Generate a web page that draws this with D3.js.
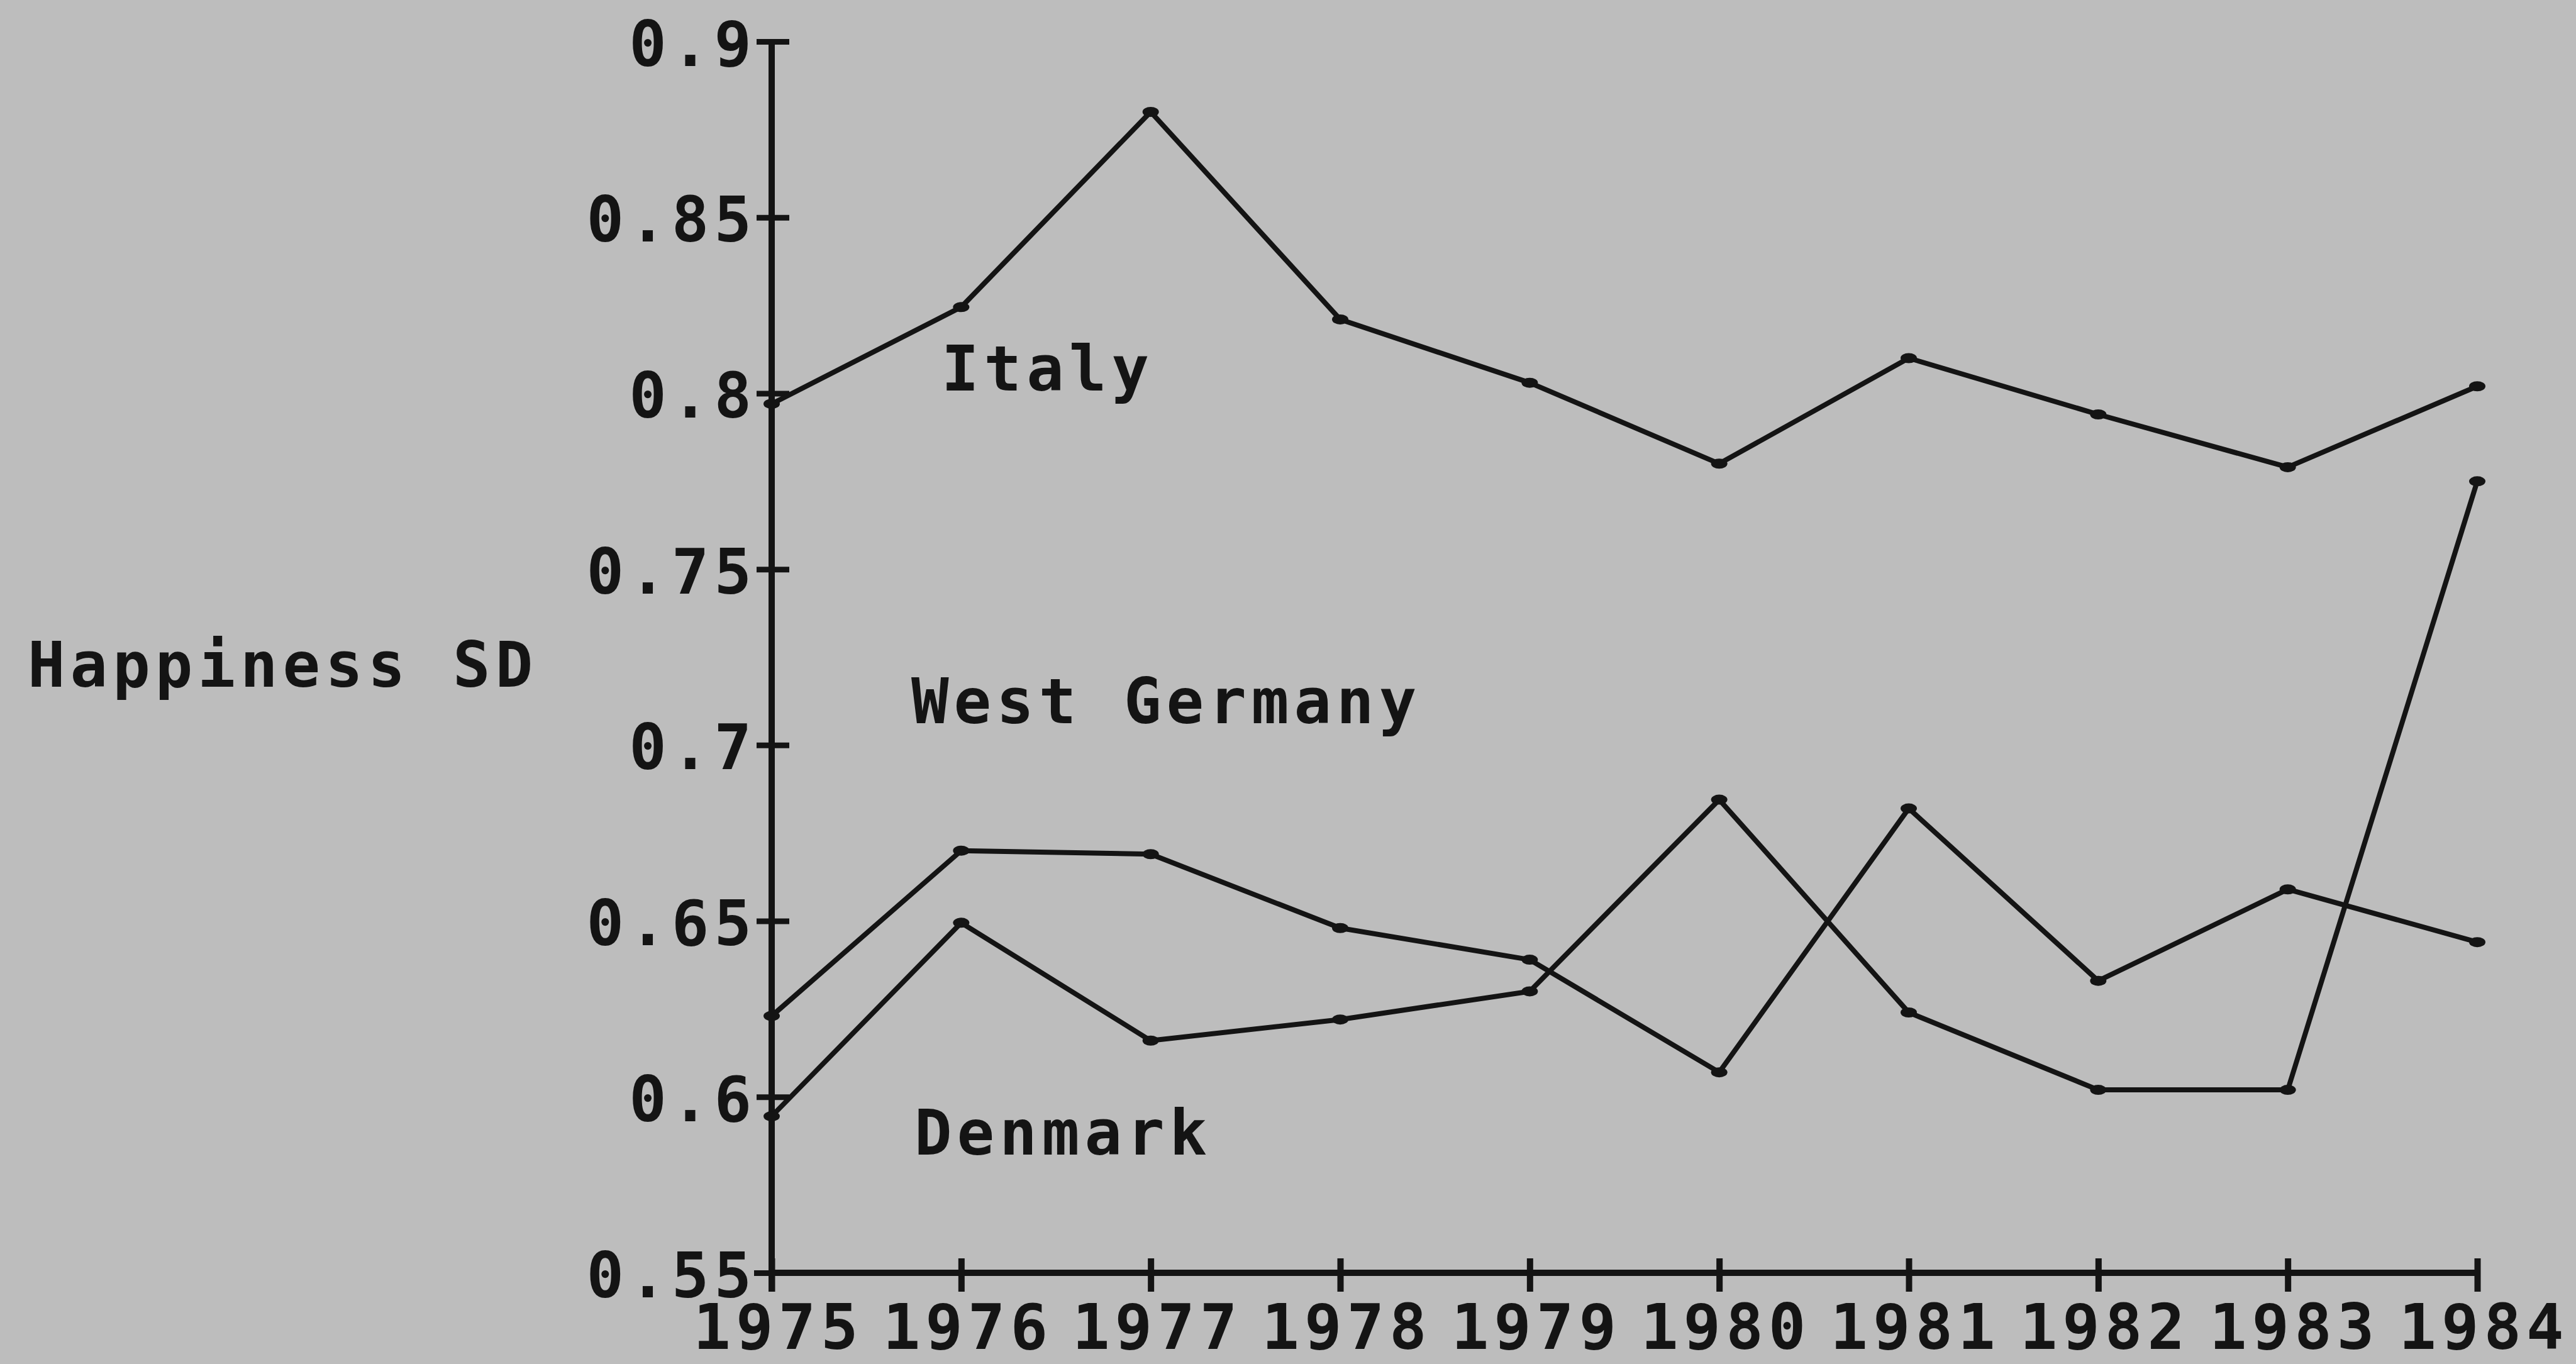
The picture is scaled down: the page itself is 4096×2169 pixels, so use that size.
<!DOCTYPE html>
<html lang="en">
	<head>
		<meta charset="utf-8">
		<title>Happiness SD by year</title>
		<script src="https://cdn.jsdelivr.net/npm/d3@7"></script>
		<style>
			html, body { margin: 0; padding: 0; background: #bdbdbd; }
			svg { display: block; }
			text { font-family: "DejaVu Sans Mono", "Liberation Mono", monospace; font-weight: bold; fill: #141414; }
		</style>
	</head>
	<body>
		<script>

			//Width and height
			var w = 4096;
			var h = 2169;

			//data
			var years = [1975, 1976, 1977, 1978, 1979, 1980, 1981, 1982, 1983, 1984];
			var italy = [0.797, 0.8245, 0.880, 0.821, 0.803, 0.780, 0.810, 0.794, 0.779, 0.802];
			var westGermany = [0.623, 0.670, 0.669, 0.648, 0.639, 0.607, 0.682, 0.633, 0.659, 0.644];
			var denmark = [0.5945, 0.6495, 0.616, 0.622, 0.630, 0.6845, 0.624, 0.602, 0.602, 0.775];
			var yTicks = [0.55, 0.6, 0.65, 0.7, 0.75, 0.8, 0.85, 0.9];
			var yTickLabels = ["0.55", "0.6", "0.65", "0.7", "0.75", "0.8", "0.85", "0.9"];

			var series = [italy, westGermany, denmark];
			var seriesLabels = ["Italy", "West Germany", "Denmark"];

			var ink = "#141414";
			var fontSize = 99;
			var spacing = 8; //extra letter spacing, the old printer font is wide

			var svg = d3.select("body")
						.append("svg")
						.attr("width", w)
						.attr("height", h);

			svg.append("rect")
				.attr("width", w)
				.attr("height", h)
				.attr("fill", "#bdbdbd");

			//scales
			var x = d3.scaleLinear()
						.domain([1975, 1984])
						.range([1227, 3939]);
			var y = d3.scaleLinear()
						.domain([0.55, 0.9])
						.range([2024, 66]);

			//y axis, ticks cross the axis line
			var yAxis = d3.axisLeft(y)
						.tickValues(yTicks)
						.tickFormat(function(d, i) { return yTickLabels[i]; })
						.tickSizeInner(24)
						.tickSizeOuter(0)
						.tickPadding(32);

			var gy = svg.append("g")
						.attr("transform", "translate(" + x(1975) + ",0)")
						.call(yAxis);

			gy.select(".domain")
				.attr("stroke", ink)
				.attr("stroke-width", 10)
				.attr("d", "M0," + y(0.9) + "V" + (y(0.55) + 30));

			gy.selectAll(".tick line")
				.attr("stroke", ink)
				.attr("stroke-width", 9)
				.attr("x1", function(d) { return d === 0.55 ? 0 : 28; })
				.attr("x2", function(d) { return d === 0.55 ? -28 : -24; });

			gy.selectAll(".tick text")
				.attr("font-size", fontSize)
				.attr("letter-spacing", spacing)
				.attr("dy", null)
				.attr("y", 38)
				.attr("x", -32 + spacing);

			//x axis
			var xAxis = d3.axisBottom(x)
						.tickValues(years)
						.tickFormat(d3.format("d"))
						.tickSizeInner(30)
						.tickSizeOuter(0);

			var gx = svg.append("g")
						.attr("transform", "translate(0," + y(0.55) + ")")
						.call(xAxis);

			gx.select(".domain")
				.attr("stroke", ink)
				.attr("stroke-width", 10)
				.attr("d", "M" + x(1975) + ",0H" + (x(1984) + 5));

			gx.selectAll(".tick line")
				.attr("stroke", ink)
				.attr("stroke-width", 10)
				.attr("y1", -23)
				.attr("y2", 30);

			//keep the year labels just inside the bottom edge
			gx.selectAll(".tick text")
				.attr("font-size", fontSize)
				.attr("letter-spacing", spacing)
				.attr("dy", null)
				.attr("y", 121)
				.attr("x", spacing / 2 + 6);

			svg.selectAll(".tick text").attr("fill", ink);

			//lines
			var line = d3.line()
						.x(function(d, i) { return x(years[i]); })
						.y(function(d) { return y(d); });

			svg.selectAll("path.series")
				.data(series)
				.enter()
				.append("path")
				.attr("class", "series")
				.attr("d", line)
				.attr("fill", "none")
				.attr("stroke", ink)
				.attr("stroke-width", 8)
				.attr("stroke-linejoin", "round");

			//little flat markers on every point
			series.forEach(function(s) {
				svg.selectAll(null)
					.data(s)
					.enter()
					.append("ellipse")
					.attr("cx", function(d, i) { return x(years[i]); })
					.attr("cy", function(d) { return y(d); })
					.attr("rx", 13)
					.attr("ry", 8)
					.attr("fill", ink);
			});

			//series names and axis title
			var labelPos = [[1497, 621], [1449, 1150], [1454, 1836]];
			svg.selectAll("text.name")
				.data(seriesLabels)
				.enter()
				.append("text")
				.attr("class", "name")
				.attr("x", function(d, i) { return labelPos[i][0]; })
				.attr("y", function(d, i) { return labelPos[i][1]; })
				.attr("font-size", fontSize)
				.attr("letter-spacing", spacing)
				.text(function(d) { return d; });

			svg.append("text")
				.attr("x", 44)
				.attr("y", 1092)
				.attr("font-size", fontSize)
				.attr("letter-spacing", spacing)
				.text("Happiness SD");

		</script>
	</body>
</html>
